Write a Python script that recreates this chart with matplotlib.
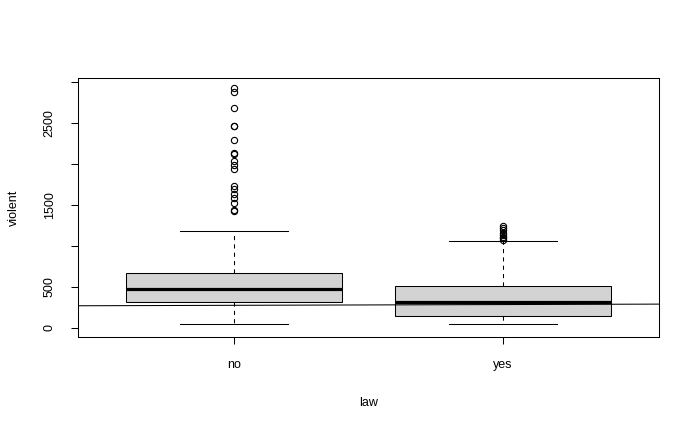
import numpy as np
import matplotlib
matplotlib.use("Agg")
import matplotlib.pyplot as plt

plt.rcParams['font.family'] = ['Liberation Sans', 'DejaVu Sans']

# group labels
groups = ['no', 'yes']

# five-number summaries
q1 = [309, 139]
med = [471, 313]
q3 = [669, 504]
whislo = [45, 41]
whishi = [1178, 1052]

# outliers
fliers_no = [2925, 2870, 2680, 2465, 2455, 2290, 2130, 2120, 2030, 1990,
             1935, 1730, 1690, 1630, 1580, 1520, 1440, 1420]
fliers_yes = [1240, 1215, 1190, 1160, 1130, 1110, 1090, 1075]
fliers = [fliers_no, fliers_yes]

# the fitted line drawn over the boxes
line_intercept = 264
line_slope = 9.3

yticks = [0, 500, 1000, 1500, 2000, 2500, 3000]
ytick_labels = ['0', '500', '', '1500', '', '2500', '']

stats = []
for i, g in enumerate(groups):
    stats.append(dict(label=g, med=med[i], q1=q1[i], q3=q3[i],
                      whislo=whislo[i], whishi=whishi[i], fliers=fliers[i]))

fig = plt.figure(figsize=(7, 4.32), dpi=100)
ax = fig.add_axes([78/700, 1-337/432, 581/700, 259/432])

ax.bxp(stats, positions=[1, 2], widths=0.8, capwidths=0.4, patch_artist=True,
       boxprops=dict(facecolor='#D3D3D3', edgecolor='black', linewidth=0.75),
       medianprops=dict(color='black', linewidth=2.3, solid_capstyle='butt'),
       whiskerprops=dict(color='black', linewidth=0.75, linestyle=(0, (4, 4))),
       capprops=dict(color='black', linewidth=0.75),
       flierprops=dict(marker='o', markerfacecolor='none', markeredgecolor='black',
                       markersize=4.5, markeredgewidth=0.8))

ax.axline((0, line_intercept), slope=line_slope, color='black', linewidth=0.75, zorder=5)

ax.set_xlim(0.42, 2.58)
ax.set_ylim(-113, 3045)

ax.set_yticks(yticks)
ax.set_yticklabels(ytick_labels, rotation=90, va='center')
ax.set_xticks([1, 2])
ax.set_xticklabels(groups)

ax.tick_params(direction='out', length=5, width=0.75, labelsize=9, pad=11)
for s in ax.spines.values():
    s.set_linewidth(0.75)

ax.set_xlabel('law', fontsize=9, va='center')
ax.xaxis.set_label_coords(0.5, (337-403)/259)
ax.set_ylabel('violent', fontsize=9, va='center')
ax.yaxis.set_label_coords((14-78)/581, 0.5)

fig.savefig('out.png', dpi=100)
